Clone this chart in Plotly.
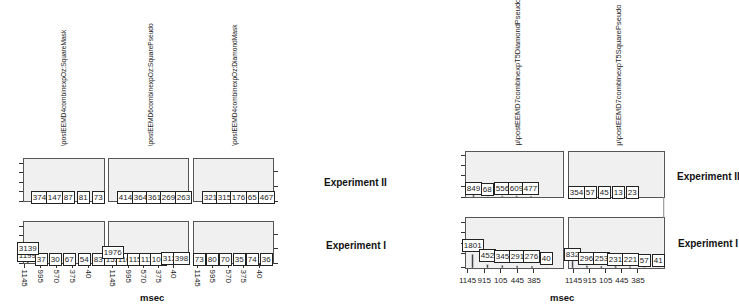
import plotly.graph_objects as go

W, H = 739, 305

# ---------------- data ----------------
TICKS_LEFT = ["1145", "995", "570", "375", "40"]
TICKS_RIGHT = ["1145", "915", "105", "445", "385"]

COL_TITLES_LEFT = ["\\postEEMD4combinexpOz:SquareMask",
                   "\\postEEMD6combinexpOz:SquarePseudo",
                   "\\postEEMD4combinexpOz:DiamondMask"]
COL_TITLES_RIGHT = ["µ\\postEEMD7combinexpT5DiamondPseudo",
                    "µ\\postEEMD7combinexpT5SquarePseudo"]
ROW_LABELS = ["Experiment II", "Experiment I"]
X_TITLE = "msec"

exp2_sq_mask = [374, 147, 87, 81, 73]
exp2_sq_pseudo = [414, 364, 361, 269, 263]
exp2_dm_mask = [321, 315, 176, 65, 467]
exp1_sq_mask = [1199, 37, 30, 67, 54, 83]
exp1_sq_mask_peak = [3139]
exp1_sq_pseudo = [152, 116, 115, 111, 107, 312, 398]
exp1_sq_pseudo_peak = [1976]
exp1_dm_mask = [73, 80, 70, 35, 74, 36]

t5_exp2_dm_pseudo = [849, 68, 556, 609, 477]
t5_exp2_sq_pseudo = [354, 57, 45, 13, 23]
t5_exp1_dm_pseudo = [1801, 452, 345, 291, 276, 40]
t5_exp1_sq_pseudo = [832, 296, 253, 231, 221, 57, 41]

# ---------------- layout (pixel geometry) ----------------
FONT = "Liberation Sans"
LABEL_SIZE = 8
panels = [
    # left figure, top row (Experiment II)
    dict(vals=exp2_sq_mask, peak=[], xd=(17, 98), yd=(159, 201), first=33, step=14.75, R=20000, shift=3,
         ticks=None, yt="left", ytf=[0, .225, .45, .675, .9]),
    dict(vals=exp2_sq_pseudo, peak=[], xd=(103, 183), yd=(159, 201), first=120, step=14.5, R=20000, shift=3,
         ticks=None, yt=None),
    dict(vals=exp2_dm_mask, peak=[], xd=(189, 269), yd=(159, 201), first=205, step=14.25, R=20000, shift=3,
         ticks=None, yt="right", ytf=[0, .35, .7]),
    # left figure, bottom row (Experiment I)
    dict(vals=exp1_sq_mask, peak=exp1_sq_mask_peak, xd=(17, 98), yd=(222, 263), first=21, step=14.2, R=11000, shift=3,
         ticks=TICKS_LEFT, t0=18, dt=16, tangle=90, yt="left", ytf=[0, .225, .45, .675, .9]),
    dict(vals=exp1_sq_pseudo, peak=exp1_sq_pseudo_peak, xd=(103, 183), yd=(222, 263), first=107, step=11.5, R=11000,
         shift=3, ticks=TICKS_LEFT, t0=107, dt=15.25, tangle=90, yt=None),
    dict(vals=exp1_dm_mask, peak=[], xd=(189, 269), yd=(222, 263), first=194, step=13.5, R=11000, shift=3,
         ticks=TICKS_LEFT, t0=192, dt=15.75, tangle=90, yt="right", ytf=[0, .35, .7]),
    # right figure, top row
    dict(vals=t5_exp2_dm_pseudo, peak=[], xd=(463, 561), yd=(152, 197), first=471, step=14.5, R=20000, shift=7,
         ticks=None, yt="left", ytf=[0, .235, .47, .705, .93]),
    dict(vals=t5_exp2_sq_pseudo, peak=[], xd=(567, 663), yd=(152, 197), first=575, step=14, R=20000, shift=4,
         ticks=None, yt=None),
    # right figure, bottom row
    dict(vals=t5_exp1_dm_pseudo, peak=[], xd=(463, 561), yd=(218, 268), first=470, step=15, R=6500, shift=9,
         ticks=TICKS_RIGHT, t0=465, dt=16.75, tangle=0, yt="left", ytf=[0.02, .3, .5, .72, .92]),
    dict(vals=t5_exp1_sq_pseudo, peak=[], xd=(567, 663), yd=(218, 268), first=571, step=14.5, R=6000, shift=7,
         ticks=TICKS_RIGHT, t0=572, dt=16.25, tangle=0, yt=None),
]


def fx(px):
    return px / W


def fy(py):
    return 1 - py / H


fig = go.Figure()
annotations = []
layout = {}


def box_label(x, y, xa, ya, v, shift):
    return dict(x=x, y=y, xref=xa, yref=ya, text=str(v), showarrow=False,
                font=dict(family=FONT, size=LABEL_SIZE, color="#222"), bgcolor="white",
                bordercolor="#222", borderwidth=1, borderpad=0.8,
                yshift=shift, yanchor="middle", xanchor="center")


for k, p in enumerate(panels, start=1):
    xa = "x" if k == 1 else f"x{k}"
    ya = "y" if k == 1 else f"y{k}"
    x0, x1 = p["xd"]
    y0, y1 = p["yd"]
    first, step = p["first"], p["step"]
    xr = [(x0 - first) / step, (x1 - first) / step]

    xaxis = dict(domain=[fx(x0), fx(x1)], range=xr, anchor=ya, showgrid=False, zeroline=False,
                 showline=True, linecolor="#555", linewidth=1, mirror=True)
    if p["ticks"]:
        tv = [(p["t0"] + i * p["dt"] - first) / step for i in range(len(p["ticks"]))]
        xaxis.update(tickmode="array", tickvals=tv, ticktext=p["ticks"], ticks="outside", ticklen=4,
                     tickcolor="#333", tickangle=p["tangle"], tickfont=dict(family=FONT, size=8, color="#222"))
    else:
        xaxis.update(showticklabels=False, ticks="")
    yaxis = dict(domain=[fy(y1), fy(y0)], range=[0, p["R"]], anchor=xa, showgrid=False, zeroline=False,
                 showline=True, linecolor="#555", linewidth=1, mirror=True, showticklabels=False)
    if p["yt"]:
        yaxis.update(ticks="outside", ticklen=4, tickcolor="#333", side=p["yt"],
                     tickmode="array", tickvals=[f * p["R"] for f in p["ytf"]])
    else:
        yaxis.update(ticks="")
    layout["xaxis" if k == 1 else f"xaxis{k}"] = xaxis
    layout["yaxis" if k == 1 else f"yaxis{k}"] = yaxis

    n = len(p["vals"])
    fig.add_trace(go.Bar(x=list(range(n)), y=p["vals"], width=0.12, marker_color="#333",
                         xaxis=xa, yaxis=ya, showlegend=False, hoverinfo="skip"))
    for i, v in enumerate(p["vals"]):
        annotations.append(box_label(i, v, xa, ya, v, p["shift"]))
    if p["peak"]:
        fig.add_trace(go.Bar(x=list(range(len(p["peak"]))), y=p["peak"], width=0.12, marker_color="#111",
                             xaxis=xa, yaxis=ya, showlegend=False, hoverinfo="skip"))
        for i, v in enumerate(p["peak"]):
            annotations.append(box_label(i, v, xa, ya, v, p["shift"]))

# column titles (rotated)
for cx, t in zip([57, 145, 230], COL_TITLES_LEFT):
    annotations.append(dict(x=fx(cx), y=fy(148), xref="paper", yref="paper", text=t, textangle=-90,
                            showarrow=False, xanchor="center", yanchor="bottom",
                            font=dict(family=FONT, size=6.6, color="#222")))
for cx, t in zip([515, 617], COL_TITLES_RIGHT):
    annotations.append(dict(x=fx(cx), y=fy(148), xref="paper", yref="paper", text=t, textangle=-90,
                            showarrow=False, xanchor="center", yanchor="bottom",
                            font=dict(family=FONT, size=7.5, color="#222")))

# row labels
for (px, py), t in zip([(352, 182), (352, 245)], ROW_LABELS):
    annotations.append(dict(x=fx(px), y=fy(py), xref="paper", yref="paper", text=f"<b>{t}</b>",
                            showarrow=False, xanchor="center", yanchor="middle",
                            font=dict(family=FONT, size=10, color="#111")))
for (px, py), t in zip([(674, 176), (675, 243)], ROW_LABELS):
    annotations.append(dict(x=fx(px), y=fy(py), xref="paper", yref="paper", text=f"<b>{t}</b>",
                            showarrow=False, xanchor="left", yanchor="middle",
                            font=dict(family=FONT, size=10, color="#111")))

# x titles
for px in [146, 560]:
    annotations.append(dict(x=fx(px), y=fy(297), xref="paper", yref="paper", text=f"<b>{X_TITLE}</b>",
                            showarrow=False, xanchor="center", yanchor="middle",
                            font=dict(family=FONT, size=9.5, color="#111")))

fig.update_layout(
    width=W, height=H, autosize=False,
    margin=dict(l=0, r=0, t=0, b=0, pad=0),
    paper_bgcolor="white", plot_bgcolor="#f0f0f0",
    barmode="overlay", showlegend=False,
    annotations=annotations,
    shapes=[dict(type="line", xref="paper", yref="paper", x0=fx(663), x1=fx(663), y0=fy(197), y1=fy(218),
                 line=dict(color="#888", width=1))],
    **layout,
)

fig.write_html("out.html", config={"displayModeBar": False},
               post_script="document.body.style.margin='0px';document.body.style.overflow='hidden';")
